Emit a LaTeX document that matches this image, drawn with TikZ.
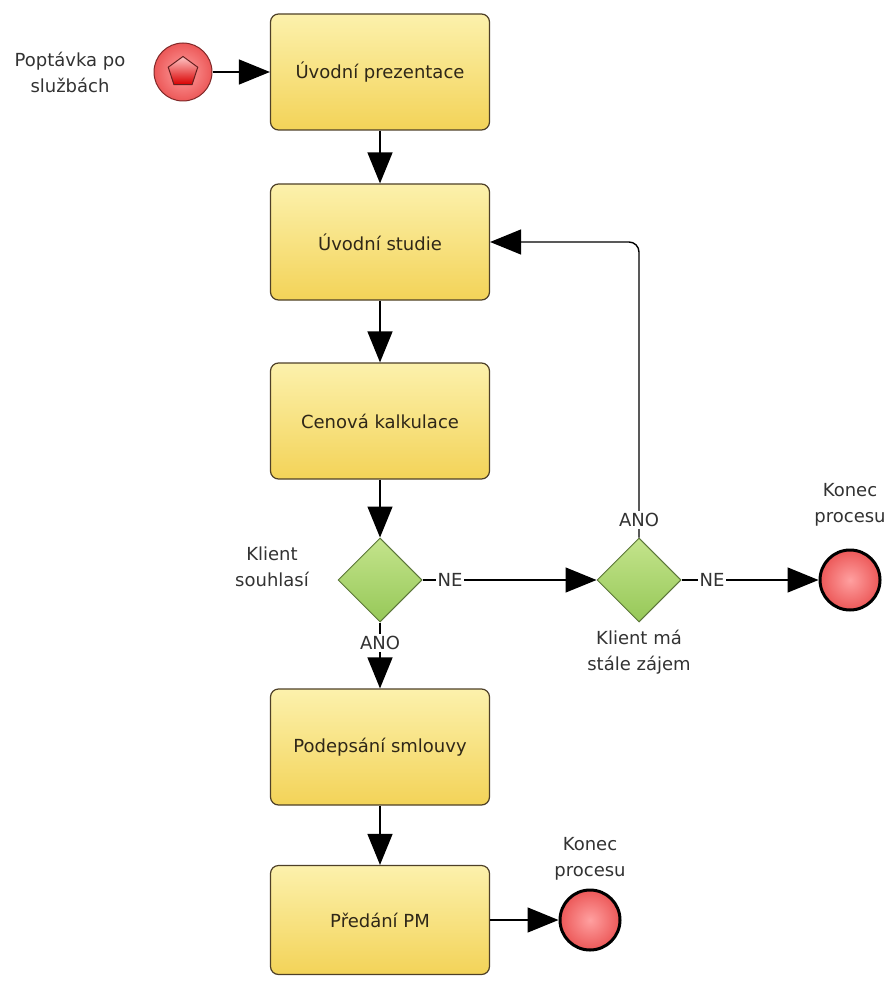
\documentclass[tikz,border=0pt]{standalone}
\usepackage{fontspec}
\setmainfont{DejaVu Sans}
\usepackage{xcolor}
\usetikzlibrary{shapes.geometric, arrows.meta, calc}
\definecolor{taskTop}{RGB}{252,241,172}
\definecolor{taskBottom}{RGB}{243,211,88}
\definecolor{taskLine}{RGB}{78,64,40}
\definecolor{gateTop}{RGB}{196,228,140}
\definecolor{gateBottom}{RGB}{150,200,88}
\definecolor{gateLine}{RGB}{92,118,58}
\definecolor{eventIn}{RGB}{255,160,160}
\definecolor{eventOut}{RGB}{236,88,88}
\definecolor{eventLine}{RGB}{128,40,40}
\definecolor{labelText}{RGB}{50,50,50}

\begin{document}
\begin{tikzpicture}[font=\fontsize{18}{26}\selectfont]
		\tikzstyle{task}=[
		draw=taskLine,
		line width=1.2pt,
		rectangle,
		rounded corners=8pt,
		top color=taskTop,
		bottom color=taskBottom,
		text=taskLine!60!black,
		align=center,
		minimum width=219pt,
		minimum height=116pt]
		\tikzstyle{gate}=[
		draw=gateLine,
		line width=1pt,
		diamond,
		aspect=1,
		inner sep=0pt,
		top color=gateTop,
		bottom color=gateBottom,
		minimum width=84pt,
		minimum height=84pt]
		\tikzstyle{startevent}=[
		draw=eventLine,
		line width=1pt,
		circle,
		inner color=eventIn,
		outer color=eventOut,
		minimum size=58pt]
		\tikzstyle{endevent}=[
		draw=black,
		line width=3pt,
		circle,
		inner color=eventIn,
		outer color=eventOut,
		minimum size=60pt]
		\tikzstyle{pentagon}=[
		draw=eventLine!80!black,
		line width=1pt,
		regular polygon,
		regular polygon sides=5,
		inner sep=0pt,
		top color=eventIn!60!white,
		bottom color=red!85!black,
		minimum size=31pt]
		\tikzstyle{txt}=[
		text=labelText,
		align=center]
		\tikzstyle{lab}=[
		fill=white,
		inner sep=2pt,
		text=labelText]
		\tikzstyle{flow}=[
		line width=1.4pt,
		-{Triangle[length=31pt, width=25pt]}]
		\useasboundingbox (0,0) rectangle (888pt,-981pt);
		\node[task] (B1) at (380pt,-72pt) {Úvodní prezentace};
		\node[startevent, left of=B1, node distance=197pt] (S) {};
		\node[pentagon] (S_icon) at (S) {};
		\node[txt, left of=S, node distance=113pt] (S_lab) {Poptávka po\\službách};
		\node[task, below of=B1, node distance=170pt] (B2) {Úvodní studie};
		\node[task, below of=B2, node distance=179pt] (B3) {Cenová kalkulace};
		\node[gate, below of=B3, node distance=159pt] (G1) {};
		\node[task, below of=G1, node distance=167pt] (B4) {Podepsání smlouvy};
		\node[task, below of=B4, node distance=173pt, minimum height=109pt] (B5) {Předání PM};
		\node[gate, right of=G1, node distance=259pt] (G2) {};
		\node[endevent, right of=G2, node distance=211pt] (E1) {};
		\node[endevent, right of=B5, node distance=210pt] (E2) {};
		%
		\path [flow] (S) edge (B1);
		\path [flow] (B1) edge (B2);
		\path [flow] (B2) edge (B3);
		\path [flow] (B3) edge (G1);
		\path [flow] (G1) edge (G2);
		\path [flow] (G2) edge (E1);
		\path [flow] (G1) edge (B4);
		\path [flow] (B4) edge (B5);
		\path [flow] (B5) edge (E2);
		\draw [flow, rounded corners=10pt] (G2) |- (B2);
		%
		\node[lab, right of=G1, node distance=70pt] (G1_ne) {NE};
		\node[lab, below of=G1, node distance=63pt] (G1_ano) {ANO};
		\node[lab, above of=G2, node distance=60pt] (G2_ano) {ANO};
		\node[lab, right of=G2, node distance=73pt] (G2_ne) {NE};
		%
		\node[txt, left of=G1, node distance=108pt, yshift=13pt] (G1_lab) {Klient\\souhlasí};
		\node[txt, below of=G2, node distance=72pt] (G2_lab) {Klient má\\stále zájem};
		\node[txt, above of=E1, node distance=75pt] (E1_lab) {Konec\\procesu};
		\node[txt, above of=E2, node distance=61pt] (E2_lab) {Konec\\procesu};
	\end{tikzpicture}
\end{document}
